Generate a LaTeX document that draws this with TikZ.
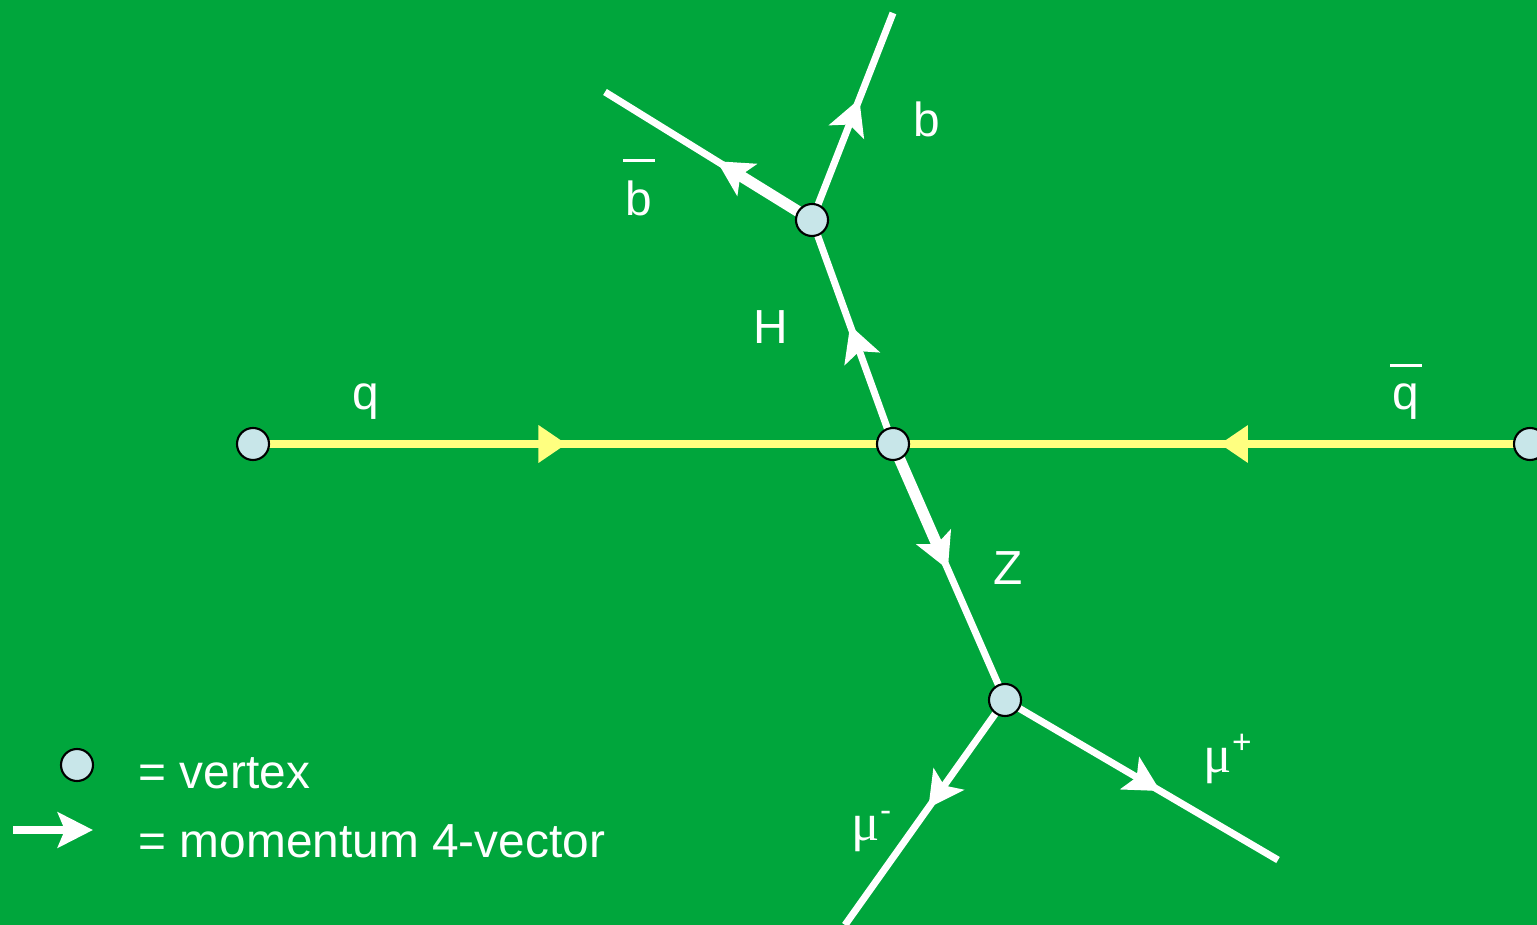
\documentclass[tikz,border=0pt]{standalone}
\usepackage{fontspec}
\setmainfont{Liberation Sans}
\newfontfamily\mufont{Liberation Serif}
\usetikzlibrary{arrows.meta,decorations.markings,calc}

\definecolor{bggreen}{RGB}{0,166,60}
\definecolor{qyellow}{RGB}{255,255,128}
\definecolor{vtxblue}{RGB}{200,230,233}

\newcommand{\barred}[2]{\ooalign{#2\cr\hidewidth\raisebox{#1}{\rule{0.65em}{0.065em}}\hidewidth\cr}}
\newcommand{\muon}[1]{{\mufont\fontsize{15}{16}\selectfont μ}\textsuperscript{#1}}

\tikzset{
  vertex/.style={circle,draw=black,line width=0.6pt,fill=vtxblue,minimum size=0.32cm,inner sep=0pt},
  fermion/.style={draw=white,color=white,line width=2pt},
  quark/.style={draw=qyellow,color=qyellow,line width=2.2pt},
  lbl/.style={text=white,font=\fontsize{13.6}{16}\selectfont,anchor=base,inner sep=0pt},
  mom/.style={postaction={decorate},decoration={markings,
      mark=at position #1 with {\arrow{Stealth[length=10pt,width=10.5pt,inset=2.2pt]}}}},
  qmom/.style={postaction={decorate},decoration={markings,
      mark=at position #1 with {\arrow{Triangle[length=8pt,width=10.2pt]}}}},
}

\begin{document}
\begin{tikzpicture}[x=0.01cm,y=-0.01cm]
  \fill[bggreen] (0,0) rectangle (1537,925);
  \clip (0,0) rectangle (1537,925);
  \useasboundingbox (0,0) rectangle (1537,925);

  % vertices and free ends
  \coordinate (vq) at (253,444);
  \coordinate (vc) at (893,444);
  \coordinate (vqb) at (1530,444);
  \coordinate (vh) at (812,220);
  \coordinate (vz) at (1005,700);
  \coordinate (bend) at (893,13);
  \coordinate (bbarend) at (605,92);
  \coordinate (mumend) at (845,925);
  \coordinate (mupend) at (1278,860);

  % incoming quarks
  \draw[quark,qmom=0.49] (vq) -- (vc);
  \draw[quark,qmom=0.487] (vqb) -- (vc);

  % Higgs and Z
  \draw[fermion,mom=0.53] (vc) -- (vh);
  \draw[fermion,line width=3.2pt] (vc) -- ($(vc)!0.42!(vz)$);
  \draw[fermion,mom=0.49] (vc) -- (vz);

  % decay products
  \draw[fermion,mom=0.585] (vh) -- (bend);
  \draw[fermion,line width=3.2pt] (vh) -- ($(vh)!0.4!(bbarend)$);
  \draw[fermion,mom=0.46] (vh) -- (bbarend);
  \draw[fermion,mom=0.48] (vz) -- (mumend);
  \draw[fermion,mom=0.57] (vz) -- (mupend);

  \node[vertex] (q) at (vq) {};
  \node[vertex] (c) at (vc) {};
  \node[vertex] (qb) at (vqb) {};
  \node[vertex] (h) at (vh) {};
  \node[vertex] (z) at (vz) {};

  % labels
  \node[lbl] (lq) at (366,410) {q};
  \node[lbl] (lqb) at (1406,410) {\barred{0.89em}{q}};
  \node[lbl] (lh) at (771,344) {H};
  \node[lbl] (lz) at (1008,584) {Z};
  \node[lbl] (lb) at (927,137) {b};
  \node[lbl] (lbb) at (639,216) {\barred{1.12em}{b}};
  \node[lbl,anchor=base west] (lmup) at (1203,772) {\muon{+}};
  \node[lbl,anchor=base west] (lmum) at (851,840) {\muon{-}};

  % legend
  \node[vertex] (legv) at (77,765) {};
  \node[lbl,anchor=base west] (legvt) at (138,788) {= vertex};
  \coordinate (lega) at (13,830);
  \coordinate (legb) at (93,830);
  \draw[fermion,-{Stealth[length=10pt,width=10pt,inset=2pt]}] (lega) -- (legb);
  \node[lbl,anchor=base west] (legat) at (138,857) {= momentum 4-vector};
\end{tikzpicture}
\end{document}
